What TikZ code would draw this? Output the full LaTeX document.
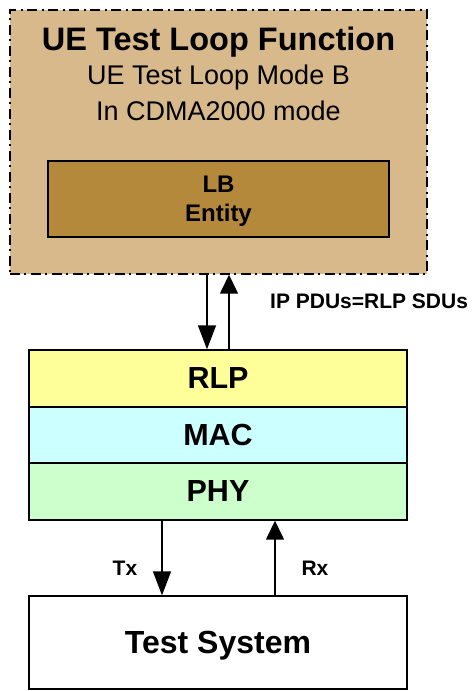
\documentclass[tikz,border=0pt]{standalone}
\usepackage{fontspec}
\setmainfont{Liberation Sans}
\usetikzlibrary{arrows.meta}
\definecolor{tanfill}{HTML}{D8B98B}
\definecolor{lbfill}{HTML}{B5893B}
\definecolor{rlpfill}{HTML}{FFFF99}
\definecolor{macfill}{HTML}{CCFFFF}
\definecolor{phyfill}{HTML}{CCFFCC}
\tikzset{
  box/.style={draw=black, line width=1.4pt, rectangle, inner sep=0pt, text depth=0pt},
  layer/.style={box, minimum width=378pt, font=\fontsize{30.5}{34}\selectfont\bfseries},
  arr/.style={line width=1.5pt, -{Triangle[length=24pt,width=18pt]}},
  arrup/.style={line width=1.5pt, -{Triangle[length=19pt,width=18pt]}},
  lbl/.style={inner sep=0pt, anchor=base, font=\fontsize{21}{24}\selectfont\bfseries}
}
\begin{document}
\begin{tikzpicture}[x=1pt,y=-1pt]
\useasboundingbox (0,0) rectangle (475,691);
% outer function box
\node[box, fill=tanfill, dash pattern=on 10pt off 4pt on 2pt off 5pt, minimum width=417pt, minimum height=264pt] (outer) at (218.5,142) {};
\node[inner sep=0pt, anchor=base, font=\fontsize{32.5}{36}\selectfont\bfseries] (title) at (218.5,50) {UE Test Loop Function};
\node[inner sep=0pt, anchor=base, font=\fontsize{27}{30}\selectfont] (sub1) at (218.5,84) {UE Test Loop Mode B};
\node[inner sep=0pt, anchor=base, font=\fontsize{27}{30}\selectfont] (sub2) at (218.5,120) {In CDMA2000 mode};
\node[box, fill=lbfill, minimum width=341pt, minimum height=76pt, align=center, font=\fontsize{24}{29}\selectfont\bfseries] (lb) at (218.5,199) {LB\\Entity};
% protocol stack
\node[layer, fill=rlpfill, minimum height=57pt] (rlp) at (218,378.5) {RLP};
\node[layer, fill=macfill, minimum height=56pt] (mac) at (218,435) {MAC};
\node[layer, fill=phyfill, minimum height=57pt] (phy) at (218,491.5) {PHY};
\node[box, fill=white, minimum width=378pt, minimum height=93pt, font=\fontsize{32}{36}\selectfont\bfseries] (ts) at (218,642.5) {Test System};
% arrows
\coordinate (xa) at (207,0);
\coordinate (xb) at (229,0);
\coordinate (xt) at (162,0);
\coordinate (xr) at (275,0);
\draw[arr] (outer.south -| xa) -- (rlp.north -| xa);
\draw[arrup] (rlp.north -| xb) -- (outer.south -| xb);
\draw[arr] (phy.south -| xt) -- (ts.north -| xt);
\draw[arrup] (ts.north -| xr) -- (phy.south -| xr);
% labels
\node[lbl, anchor=base west] (ip) at (270,308) {IP PDUs=RLP SDUs};
\node[lbl] (tx) at (125,575) {Tx};
\node[lbl] (rx) at (315,575) {Rx};
\end{tikzpicture}
\end{document}
